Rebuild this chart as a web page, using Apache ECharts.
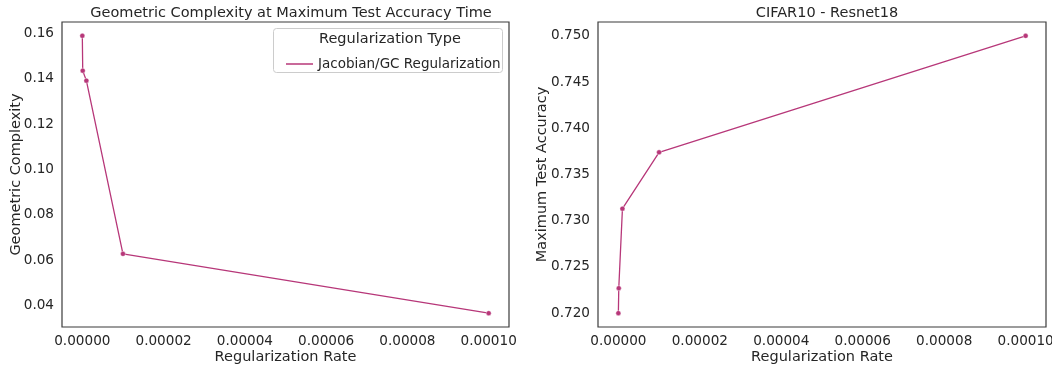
<!DOCTYPE html>
<html>
<head>
<meta charset="utf-8">
<script src="https://cdn.jsdelivr.net/npm/echarts@6/dist/echarts.min.js"></script>
<style>
  html, body { margin: 0; padding: 0; background: #fff; }
  #main { width: 1052px; height: 368px; }
</style>
</head>
<body>
<div id="main"></div>
<script>
// data
var regRates = [0, 1e-7, 1e-6, 1e-5, 1e-4];
var geoComplexity = [0.159, 0.1436, 0.1392, 0.0627, 0.0365];
var testAccuracy = [0.7200, 0.7227, 0.7313, 0.7374, 0.7500];

var xTicks = [0, 0.00002, 0.00004, 0.00006, 0.00008, 0.0001];
var gcTicks = [0.04, 0.06, 0.08, 0.10, 0.12, 0.14, 0.16];
var accTicks = [0.720, 0.725, 0.730, 0.735, 0.740, 0.745, 0.750];

var seriesName = 'Jacobian/GC Regularization';
var lineColor = '#b73779';
var txt = '#262626';
var font = 'DejaVu Sans';

function pairs(xs, ys) {
    var out = [];
    for (var i = 0; i < xs.length; i++) out.push([xs[i], ys[i]]);
    return out;
}

function xAxisCfg(idx) {
    return {
        type: 'value', gridIndex: idx,
        min: -0.000005, max: 0.000105,
        name: 'Regularization Rate', nameLocation: 'middle', nameGap: 23, nameMoveOverlap: false,
        nameTextStyle: { color: txt, fontSize: 14.5, fontFamily: font },
        axisLine: { show: false }, axisTick: { show: false }, splitLine: { show: false },
        axisLabel: {
            customValues: xTicks, color: txt, fontSize: 13.6, fontFamily: font, margin: 7,
            formatter: function (v) { return v.toFixed(5); }
        }
    };
}

function yAxisCfg(idx, name, min, max, ticks, digits, gap) {
    return {
        type: 'value', gridIndex: idx, min: min, max: max,
        name: name, nameLocation: 'middle', nameGap: gap, nameMoveOverlap: false,
        nameTextStyle: { color: txt, fontSize: 14.5, fontFamily: font },
        axisLine: { show: false }, axisTick: { show: false }, splitLine: { show: false },
        axisLabel: {
            customValues: ticks, color: txt, fontSize: 13.6, fontFamily: font, margin: 8,
            formatter: function (v) { return v.toFixed(digits); }
        }
    };
}

function lineSeries(idx, data) {
    return {
        type: 'line', name: seriesName, xAxisIndex: idx, yAxisIndex: idx,
        data: data, symbol: 'circle', symbolSize: 5, showSymbol: true,
        lineStyle: { color: lineColor, width: 1.3 },
        itemStyle: { color: lineColor, borderColor: '#fff', borderWidth: 0.4 },
        emphasis: { disabled: true }, animation: false
    };
}

var chart = echarts.init(document.getElementById('main'), null, { renderer: 'canvas' });
var option = {
    backgroundColor: '#fff',
    animation: false,
    title: [
        { text: 'Geometric Complexity at Maximum Test Accuracy Time', left: 286, top: 1, textAlign: 'center',
          textStyle: { color: txt, fontSize: 14.5, fontWeight: 'normal', fontFamily: font } },
        { text: 'CIFAR10 - Resnet18', left: 822, top: 1, textAlign: 'center',
          textStyle: { color: txt, fontSize: 14.5, fontWeight: 'normal', fontFamily: font } }
    ],
    grid: [
        { left: 62, top: 22, width: 447, height: 305, show: true, borderColor: '#3b3b3b', borderWidth: 1.2,
          containLabel: false, outerBoundsMode: 'none' },
        { left: 598, top: 22, width: 448, height: 305, show: true, borderColor: '#3b3b3b', borderWidth: 1.2,
          containLabel: false, outerBoundsMode: 'none' }
    ],
    xAxis: [xAxisCfg(0), xAxisCfg(1)],
    yAxis: [
        yAxisCfg(0, 'Geometric Complexity', 0.0304, 0.1651, gcTicks, 2, 38),
        yAxisCfg(1, 'Maximum Test Accuracy', 0.7185, 0.7515, accTicks, 3, 48)
    ],
    legend: {
        left: 281, top: 52, itemWidth: 27, itemHeight: 1.5, z: 10,
        data: [{ name: seriesName, icon: 'path://M0,0 L27,0 L27,1.5 L0,1.5 Z' }],
        itemStyle: { color: lineColor, borderWidth: 0 },
        lineStyle: { width: 0 },
        textStyle: { color: txt, fontSize: 13.5, fontFamily: font },
        selectedMode: false
    },
    graphic: [
        { type: 'rect', left: 273, top: 28, shape: { width: 229, height: 44, r: 3 },
          style: { fill: 'rgba(255,255,255,0.8)', stroke: '#cccccc', lineWidth: 1 }, z: 1 },
        { type: 'text', left: 319, top: 32,
          style: { text: 'Regularization Type', fill: txt, fontSize: 14.5, fontFamily: font }, z: 6 }
    ],
    series: [
        lineSeries(0, pairs(regRates, geoComplexity)),
        lineSeries(1, pairs(regRates, testAccuracy))
    ]
};
chart.setOption(option);
</script>
</body>
</html>
